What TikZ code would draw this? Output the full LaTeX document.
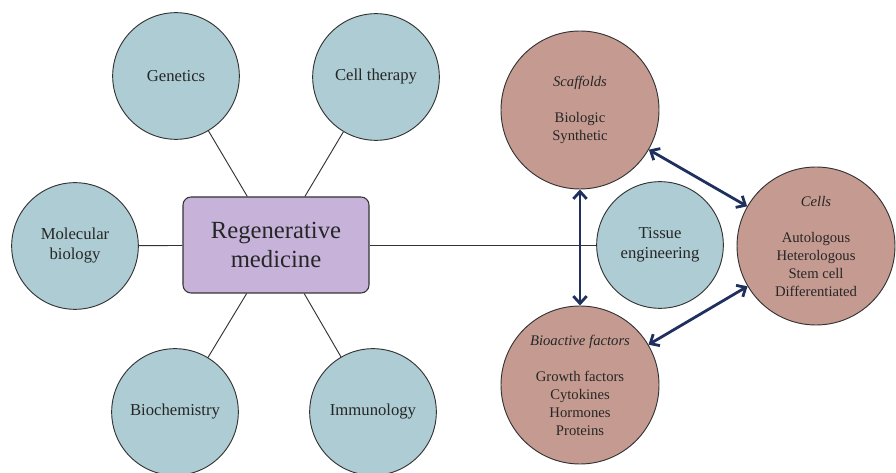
\documentclass[tikz,border=0pt]{standalone}
\usepackage{fontspec}
\setmainfont{Liberation Serif}
\usetikzlibrary{arrows.meta, positioning}

\definecolor{tealc}{HTML}{ADCCD3}
\definecolor{lilac}{HTML}{C7B3D9}
\definecolor{rosy}{HTML}{C59B91}
\definecolor{navy}{HTML}{1F2F5E}
\definecolor{edge}{HTML}{333333}

\begin{document}
\begin{tikzpicture}[x=0.75pt, y=-0.75pt,
        disc/.style={circle, draw=edge, line width=0.7pt, fill=tealc, minimum size=95pt, inner sep=0pt, align=center,
            font=\fontsize{12.5}{15}\selectfont, text=black!85},
        bigdisc/.style={circle, draw=edge, line width=0.7pt, fill=rosy, minimum size=118.5pt, inner sep=0pt, align=center,
            font=\fontsize{11}{13.5}\selectfont, text=black!85},
        hub/.style={rectangle, rounded corners=6pt, draw=edge, line width=0.8pt, fill=lilac, minimum width=139.5pt,
            minimum height=72pt, align=center, font=\fontsize{18.5}{22}\selectfont, text=black!85},
        link/.style={draw=edge, line width=0.7pt},
        dbl/.style={draw=navy, line width=2.1pt, {Straight Barb[length=5.5pt,width=10pt]}-{Straight Barb[length=5.5pt,width=10pt]}}]

    \useasboundingbox (0,0) rectangle (896,473);

    % Centro
    \node[hub] (reg) at (276,245) {Regenerative\\medicine};

    % Disciplinas
    \node[disc] (gen) at (176,76) {Genetics};
    \node[disc] (cel) at (376,77) {Cell therapy};
    \node[disc] (mol) at (75,246) {Molecular\\biology};
    \node[disc] (bio) at (175,412) {Biochemistry};
    \node[disc] (imm) at (373,412) {Immunology};
    \node[disc] (tis) at (660,245) {Tissue\\engineering};

    % Triada de ingenieria de tejidos
    \node[bigdisc] (sca) at (580,110) {\textit{Scaffolds}\\[13.5pt]Biologic\\Synthetic};
    \node[bigdisc] (cls) at (816,246) {\textit{Cells}\\[13.5pt]Autologous\\Heterologous\\Stem cell\\Differentiated};
    \node[bigdisc] (bfa) at (580,385) {\textit{Bioactive factors}\\[13.5pt]Growth factors\\Cytokines\\Hormones\\Proteins};

    % Conexiones
    \draw[link] (reg) -- (gen);
    \draw[link] (reg) -- (cel);
    \draw[link] (reg) -- (mol);
    \draw[link] (reg) -- (bio);
    \draw[link] (reg) -- (imm);
    \draw[link] (reg) -- (tis);

    % Flechas dobles
    \draw[dbl] (sca) -- (bfa);
    \draw[dbl] (sca) -- (cls);
    \draw[dbl] (bfa) -- (cls);
\end{tikzpicture}
\end{document}
